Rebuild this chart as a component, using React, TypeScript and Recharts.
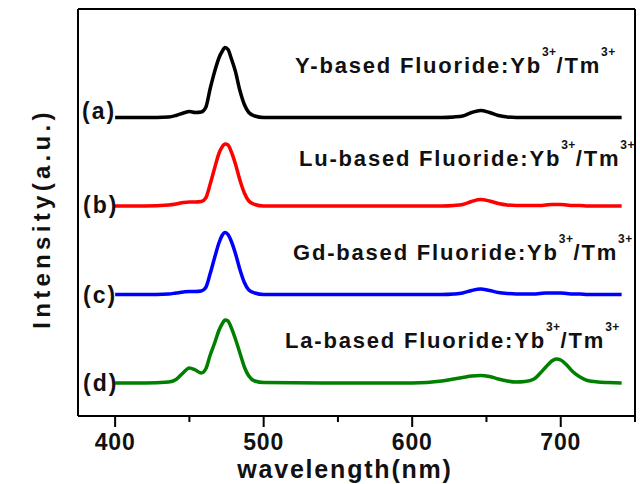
import { Line, LineChart, XAxis, YAxis } from 'recharts'

// emission spectra under 980 nm excitation, sampled by eye off the figure
const wavelengths = [
  400, 420, 436, 441, 446, 450, 454, 458, 461, 464, 467, 470, 472, 474, 476, 478, 481, 484, 487, 490, 494,
  500, 540, 600, 620, 628, 634, 640, 646, 652, 658, 664, 670, 676, 682, 686, 690, 694, 697, 700, 704, 708,
  713, 718, 725, 732, 741
]

const intensityY = [
  0, 0, 0.5, 2, 4.5, 6, 5, 5.5, 10, 29, 46, 60, 66, 70, 68, 60, 46, 27, 13, 5, 1.5,
  0, 0, 0, 0, 0.5, 1.5, 5, 7, 5, 2, 0.5, 0, 0, 0, 0, 0, 0, 0, 0, 0, 0,
  0, 0, 0, 0, 0
]

const intensityLu = [
  0, 0, 1, 2, 3.5, 4, 4, 4.5, 8, 22, 38, 53, 59, 62, 61, 55, 42, 26, 13, 5, 1.5,
  0, 0, 0, 0, 0.5, 1.5, 4.5, 6.5, 5, 2.5, 1, 0.5, 0.5, 0.5, 0.5, 1, 1.5, 1.5, 1.5, 1, 0.5,
  0.5, 0, 0, 0, 0
]

const intensityGd = [
  0, 0, 0.5, 1.5, 2.5, 3, 3, 3.5, 7, 21, 37, 52, 59, 62, 60, 54, 41, 25, 12, 4.5, 1.5,
  0, 0, 0, 0, 0.5, 1.5, 4, 5.5, 4, 2, 1, 0.5, 0.5, 0.5, 1, 1.5, 1.5, 1.5, 1.5, 1, 0.5,
  0.5, 0, 0, 0, 0
]

const intensityLa = [
  0, 0, 1, 3.5, 10.5, 15, 13, 10, 14, 28, 40, 53, 59, 63, 62, 56, 44, 30, 16, 7, 2,
  0.5, 0, 0, 2, 4, 5.5, 7, 7.6, 6.5, 4, 2, 1, 1.5, 4, 9.5, 16, 22, 24, 23, 18, 11.5,
  6, 2.5, 1, 0.5, 0
]

// vertical stacking offsets of the four spectra (a.u.)
const offsets = [298.5, 210, 121.5, 33]
const curveLabels = ['(a)', '(b)', '(c)', '(d)']
const hosts = ['Y', 'Lu', 'Gd', 'La']
const colors = ['#000000', '#ff0000', '#0000ff', '#008000']
const xTicks = [400, 450, 500, 550, 600, 650, 700, 750]

const series = [intensityY, intensityLu, intensityGd, intensityLa]
const keys = ['y', 'lu', 'gd', 'la']

const rows = wavelengths.map((w, i) => {
  const row: Record<string, number> = { w }
  keys.forEach((k, s) => {
    row[k] = offsets[s] + series[s][i]
  })
  return row
})

const font = '"Liberation Sans", Arial, sans-serif'

// text overlay positions (px)
const curveLabelPos = [
  { x: 82, y: 119 },
  { x: 83, y: 213 },
  { x: 83, y: 303 },
  { x: 83, y: 391 }
]
const annotationPos = [
  { x: 295, y: 73 },
  { x: 299, y: 166 },
  { x: 293, y: 260 },
  { x: 285, y: 348 }
]

function WavelengthTick({ x, y, payload }: any) {
  const major = payload.value % 100 === 0
  return (
    <g>
      <line x1={x} x2={x} y1={y} y2={y + (major ? 11 : 6)} stroke="#000" strokeWidth={2} />
      {major && (
        <text
          x={x}
          y={y + 34}
          textAnchor="middle"
          fontFamily={font}
          fontWeight="bold"
          fontSize={23}
          letterSpacing={0.8}
          fill="#111"
        >
          {payload.value}
        </text>
      )}
    </g>
  )
}

function XTitle({ viewBox }: any) {
  return (
    <text
      x={345}
      y={viewBox.y + 62}
      textAnchor="middle"
      fontFamily={font}
      fontWeight="bold"
      fontSize={25}
      letterSpacing={1.8}
      fill="#111"
    >
      wavelength(nm)
    </text>
  )
}

function YTitle({ viewBox }: any) {
  const cx = 50
  const cy = viewBox.y + viewBox.height / 2 + 6
  return (
    <text
      x={cx}
      y={cy}
      transform={`rotate(-90, ${cx}, ${cy})`}
      textAnchor="middle"
      fontFamily={font}
      fontWeight="bold"
      fontSize={24}
      letterSpacing={4.3}
      fill="#111"
    >
      Intensity(a.u.)
    </text>
  )
}

export default function App() {
  return (
    <div style={{ position: 'absolute', left: 0, top: 0, width: 640, height: 484, background: '#fff' }}>
      <LineChart width={640} height={484} data={rows} margin={{ top: 8, right: 4, bottom: 0, left: 0 }}>
        <XAxis
          dataKey="w"
          type="number"
          domain={[375, 750]}
          ticks={xTicks}
          interval={0}
          height={68}
          tickSize={0}
          tickMargin={0}
          tickLine={false}
          tick={<WavelengthTick />}
          axisLine={{ stroke: '#000', strokeWidth: 2 }}
          label={<XTitle />}
        />
        <XAxis
          xAxisId="top"
          orientation="top"
          dataKey="w"
          type="number"
          domain={[375, 750]}
          height={1}
          tick={false}
          tickLine={false}
          axisLine={{ stroke: '#000', strokeWidth: 2 }}
        />
        <YAxis
          type="number"
          domain={[0, 407]}
          width={78}
          tick={false}
          tickLine={false}
          axisLine={{ stroke: '#000', strokeWidth: 2 }}
          label={<YTitle />}
        />
        <YAxis
          yAxisId="right"
          orientation="right"
          type="number"
          domain={[0, 407]}
          width={1}
          tick={false}
          tickLine={false}
          axisLine={{ stroke: '#000', strokeWidth: 2 }}
        />
        {keys.map((k, s) => (
          <Line
            key={k}
            dataKey={k}
            type="monotone"
            stroke={colors[s]}
            strokeWidth={3.5}
            dot={false}
            isAnimationActive={false}
          />
        ))}
      </LineChart>
      <svg
        width={640}
        height={484}
        style={{ position: 'absolute', left: 0, top: 0, pointerEvents: 'none' }}
      >
        {curveLabels.map((t, s) => (
          <text
            key={t}
            x={curveLabelPos[s].x}
            y={curveLabelPos[s].y}
            fontFamily={font}
            fontWeight="bold"
            fontSize={23}
            letterSpacing={2}
            fill="#111"
          >
            {t}
          </text>
        ))}
        {hosts.map((h, s) => (
          <text
            key={h}
            x={annotationPos[s].x}
            y={annotationPos[s].y}
            fontFamily={font}
            fontWeight="bold"
            fontSize={22}
            letterSpacing={1.8}
            fill="#111"
          >
            <tspan>{h}-based Fluoride:Yb</tspan>
            <tspan dy={-17} fontSize={12} letterSpacing={0.5}>3+</tspan>
            <tspan dy={17}>/Tm</tspan>
            <tspan dy={-17} fontSize={12} letterSpacing={0.5}>3+</tspan>
          </text>
        ))}
      </svg>
    </div>
  )
}
